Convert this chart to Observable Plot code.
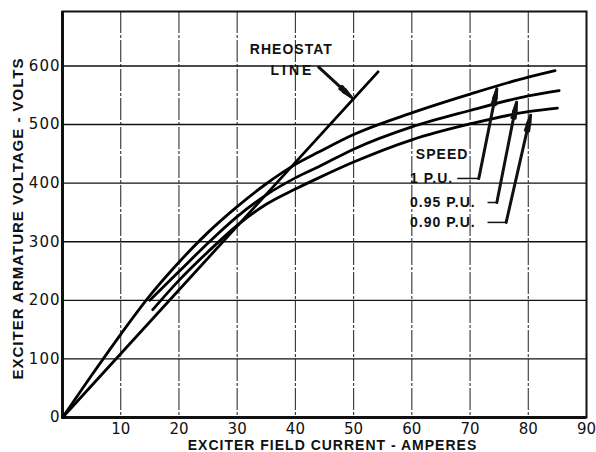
<!DOCTYPE html>
<html><head><meta charset="utf-8">
<script src="https://cdn.jsdelivr.net/npm/d3@7"></script>
<script src="https://cdn.jsdelivr.net/npm/@observablehq/plot@0.6"></script>
<style>html,body{margin:0;padding:0;background:#fff}svg{display:block}</style>
</head><body><div id="chart"></div>
<script>
// Exciter saturation curves at three speeds (field current A, armature volts)
const current100 = [0, 5, 10, 15, 20, 25, 30, 35, 40, 44, 50, 60, 70, 80, 84.6];
const volts100   = [0, 72, 142, 208, 265, 316, 360, 399, 432, 453, 483, 520, 552, 581, 592];
const current95  = [15, 20, 25, 30, 35, 40, 44, 50, 60, 70, 80, 85.3];
const volts95    = [200, 249, 298, 343, 380, 409, 428, 458, 496, 524, 549, 558];
const current90  = [15.5, 20, 25, 30, 35, 40, 44, 50, 60, 70, 80, 85];
const volts90    = [184, 234, 283, 328, 364, 390, 409, 436, 474, 501, 522, 528];
// Rheostat line
const rheoCurrent = [0, 54.2];
const rheoVolts   = [0, 590];
// Ticks
const xTicks = [10, 20, 30, 40, 50, 60, 70, 80, 90];
const yTicks = [0, 100, 200, 300, 400, 500, 600];
const xGrid  = [10, 20, 30, 40, 50, 60, 70, 80];
const yGrid  = [100, 200, 300, 400, 500, 600];
// Speed labels and leaders
const speedLabels   = ["1 P.U.", "0.95 P.U.", "0.90 P.U."];
const labelCurrent  = [59.7, 59.7, 59.7];
const labelVolt     = [408, 367, 333];
const leaderFrom    = [67.8, 73.0, 73.0];
const leaderCorner  = [71.5, 74.6, 76.2];
const tipCurrent    = [74.6, 78.0, 80.4];
const tipVolt       = [561, 538, 516];
// Rheostat label
const rheoLabel = ["RHEOSTAT", "LINE"];
const rheoLabelCurrent = [39.3, 39.5];
const rheoLabelVolt = [628, 592];
const rheoArrowFrom = [44.0, 598];
const rheoArrowTo = [49.7, 546];
const speedTitle = "SPEED";
const speedTitlePos = [65.2, 449];
const xTitle = "EXCITER FIELD CURRENT - AMPERES";
const yTitle = "EXCITER ARMATURE VOLTAGE - VOLTS";

const curves = [
  ...current100.map((c, i) => ({speed: "1", c, v: volts100[i]})),
  ...current95.map((c, i) => ({speed: "0.95", c, v: volts95[i]})),
  ...current90.map((c, i) => ({speed: "0.90", c, v: volts90[i]}))
];
const rheo = rheoCurrent.map((c, i) => ({c, v: rheoVolts[i]}));
const labels = speedLabels.map((t, i) => ({
  t, x: labelCurrent[i], y: labelVolt[i],
  h1: leaderFrom[i], h2: leaderCorner[i], tx: tipCurrent[i], ty: tipVolt[i]
}));
const rheoLabels = rheoLabel.map((t, i) => ({t, x: rheoLabelCurrent[i], y: rheoLabelVolt[i]}));

const LF = "Liberation Sans";
const chart = Plot.plot({
  width: 596, height: 452,
  marginLeft: 62, marginRight: 10, marginTop: 11, marginBottom: 35,
  style: {fontFamily: "DejaVu Sans", fontSize: "15px", color: "#111", background: "#fff"},
  x: {domain: [0, 90], ticks: xTicks, tickSize: 0, tickPadding: 6, label: null, tickFormat: d => String(d)},
  y: {domain: [0, 693], ticks: yTicks, tickSize: 0, tickPadding: 2, label: null, tickFormat: d => String(d)},
  marks: [
    Plot.ruleX(xGrid, {stroke: "#333", strokeWidth: 1.1, strokeDasharray: "22,2,3,2"}),
    Plot.ruleY(yGrid, {stroke: "#111", strokeWidth: 1.4}),
    Plot.frame({stroke: "#111", strokeWidth: 2}),
    Plot.ruleX([0], {stroke: "#111", strokeWidth: 3}),
    Plot.ruleY([0], {stroke: "#111", strokeWidth: 3}),
    Plot.line(rheo, {x: "c", y: "v", stroke: "#000", strokeWidth: 2.8}),
    Plot.line(curves, {x: "c", y: "v", z: "speed", stroke: "#000", strokeWidth: 2.8, curve: "monotone-x"}),
    // speed labels
    Plot.text(labels, {x: "x", y: "y", text: "t", textAnchor: "start", fontFamily: LF, fontWeight: "bold", fontSize: 14, fill: "#111"}),
    Plot.link(labels, {x1: "h1", y1: "y", x2: "h2", y2: "y", stroke: "#111", strokeWidth: 1.5}),
    Plot.arrow(labels, {x1: "h2", y1: "y", x2: "tx", y2: "ty", stroke: "#111", strokeWidth: 1.5, headLength: 10, headAngle: 25}),
    Plot.arrow(labels, {x1: "h2", y1: "y", x2: "tx", y2: "ty", stroke: "#111", strokeWidth: 3, headLength: 8, headAngle: 12}),
    Plot.text([speedTitle], {x: speedTitlePos[0], y: speedTitlePos[1], text: d => d, fontFamily: LF, fontWeight: "bold", fontSize: 14, fill: "#111"}),
    // rheostat label
    Plot.text(rheoLabels, {x: "x", y: "y", text: "t", fontFamily: LF, fontWeight: "bold", fontSize: 14, fill: "#111"}),
    Plot.arrow([0], {x1: rheoArrowFrom[0], y1: rheoArrowFrom[1], x2: rheoArrowTo[0], y2: rheoArrowTo[1], stroke: "#111", strokeWidth: 1.6, headLength: 10, headAngle: 25}),
    Plot.arrow([0], {x1: rheoArrowFrom[0], y1: rheoArrowFrom[1], x2: rheoArrowTo[0], y2: rheoArrowTo[1], stroke: "#111", strokeWidth: 3, headLength: 8, headAngle: 12}),
    // axis titles
    Plot.text([xTitle], {frameAnchor: "bottom", lineAnchor: "middle", textAnchor: "middle", dx: 8, dy: 28, text: d => d, fontFamily: LF, fontWeight: "bold", fontSize: 14, fill: "#111"}),
    Plot.text([yTitle], {frameAnchor: "left", lineAnchor: "middle", textAnchor: "middle", rotate: -90, dx: -44, dy: 4, text: d => d, fontFamily: LF, fontWeight: "bold", fontSize: 15, fill: "#111"})
  ]
});
d3.select(chart).style("letter-spacing", "1px");
d3.select(chart).selectAll("g[aria-label='x-axis tick label'] text").style("letter-spacing", "0px");
d3.select(chart).selectAll("text").filter(function() { return this.textContent === "LINE"; }).style("letter-spacing", "3px");
document.getElementById("chart").appendChild(chart);
</script>
</body></html>
